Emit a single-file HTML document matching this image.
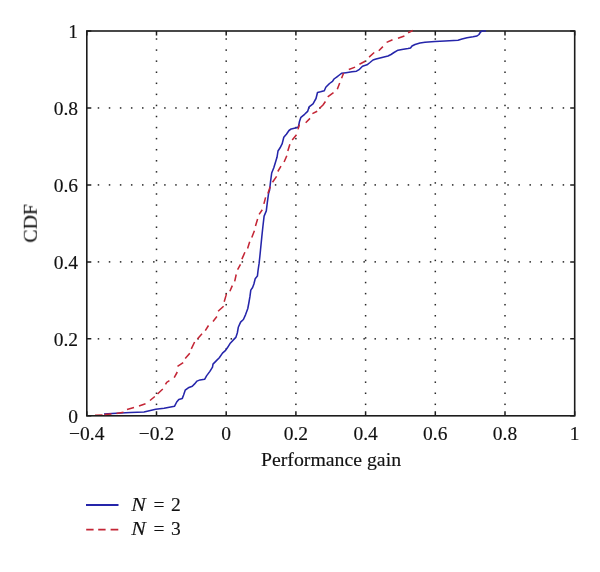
<!DOCTYPE html>
<html><head><meta charset="utf-8"><style>
html,body{margin:0;padding:0;background:#fff;}
body{width:600px;height:572px;overflow:hidden;}
svg{display:block;}
text{-webkit-font-smoothing:antialiased;}
.g{filter:grayscale(1);}

text{font-family:"Liberation Serif",serif;font-size:19.5px;fill:#111;stroke:#111;stroke-width:0.15px;}
</style></head><body>
<svg width="600" height="572" viewBox="0 0 600 572">
<rect width="600" height="572" fill="#fff"/>
<g fill="#262626"><rect x="97.72" y="338.09" width="1.5" height="1.5"/><rect x="108.79" y="338.09" width="1.5" height="1.5"/><rect x="119.86" y="338.09" width="1.5" height="1.5"/><rect x="130.93" y="338.09" width="1.5" height="1.5"/><rect x="142.00" y="338.09" width="1.5" height="1.5"/><rect x="153.07" y="338.09" width="1.5" height="1.5"/><rect x="164.14" y="338.09" width="1.5" height="1.5"/><rect x="175.21" y="338.09" width="1.5" height="1.5"/><rect x="186.28" y="338.09" width="1.5" height="1.5"/><rect x="197.35" y="338.09" width="1.5" height="1.5"/><rect x="208.42" y="338.09" width="1.5" height="1.5"/><rect x="219.49" y="338.09" width="1.5" height="1.5"/><rect x="230.56" y="338.09" width="1.5" height="1.5"/><rect x="241.63" y="338.09" width="1.5" height="1.5"/><rect x="252.70" y="338.09" width="1.5" height="1.5"/><rect x="263.77" y="338.09" width="1.5" height="1.5"/><rect x="274.84" y="338.09" width="1.5" height="1.5"/><rect x="285.91" y="338.09" width="1.5" height="1.5"/><rect x="296.98" y="338.09" width="1.5" height="1.5"/><rect x="308.05" y="338.09" width="1.5" height="1.5"/><rect x="319.12" y="338.09" width="1.5" height="1.5"/><rect x="330.19" y="338.09" width="1.5" height="1.5"/><rect x="341.26" y="338.09" width="1.5" height="1.5"/><rect x="352.33" y="338.09" width="1.5" height="1.5"/><rect x="363.40" y="338.09" width="1.5" height="1.5"/><rect x="374.47" y="338.09" width="1.5" height="1.5"/><rect x="385.54" y="338.09" width="1.5" height="1.5"/><rect x="396.61" y="338.09" width="1.5" height="1.5"/><rect x="407.68" y="338.09" width="1.5" height="1.5"/><rect x="418.75" y="338.09" width="1.5" height="1.5"/><rect x="429.82" y="338.09" width="1.5" height="1.5"/><rect x="440.89" y="338.09" width="1.5" height="1.5"/><rect x="451.96" y="338.09" width="1.5" height="1.5"/><rect x="463.03" y="338.09" width="1.5" height="1.5"/><rect x="474.10" y="338.09" width="1.5" height="1.5"/><rect x="485.17" y="338.09" width="1.5" height="1.5"/><rect x="496.24" y="338.09" width="1.5" height="1.5"/><rect x="507.31" y="338.09" width="1.5" height="1.5"/><rect x="518.38" y="338.09" width="1.5" height="1.5"/><rect x="529.45" y="338.09" width="1.5" height="1.5"/><rect x="540.52" y="338.09" width="1.5" height="1.5"/><rect x="551.59" y="338.09" width="1.5" height="1.5"/><rect x="562.66" y="338.09" width="1.5" height="1.5"/><rect x="97.72" y="261.13" width="1.5" height="1.5"/><rect x="108.79" y="261.13" width="1.5" height="1.5"/><rect x="119.86" y="261.13" width="1.5" height="1.5"/><rect x="130.93" y="261.13" width="1.5" height="1.5"/><rect x="142.00" y="261.13" width="1.5" height="1.5"/><rect x="153.07" y="261.13" width="1.5" height="1.5"/><rect x="164.14" y="261.13" width="1.5" height="1.5"/><rect x="175.21" y="261.13" width="1.5" height="1.5"/><rect x="186.28" y="261.13" width="1.5" height="1.5"/><rect x="197.35" y="261.13" width="1.5" height="1.5"/><rect x="208.42" y="261.13" width="1.5" height="1.5"/><rect x="219.49" y="261.13" width="1.5" height="1.5"/><rect x="230.56" y="261.13" width="1.5" height="1.5"/><rect x="241.63" y="261.13" width="1.5" height="1.5"/><rect x="252.70" y="261.13" width="1.5" height="1.5"/><rect x="263.77" y="261.13" width="1.5" height="1.5"/><rect x="274.84" y="261.13" width="1.5" height="1.5"/><rect x="285.91" y="261.13" width="1.5" height="1.5"/><rect x="296.98" y="261.13" width="1.5" height="1.5"/><rect x="308.05" y="261.13" width="1.5" height="1.5"/><rect x="319.12" y="261.13" width="1.5" height="1.5"/><rect x="330.19" y="261.13" width="1.5" height="1.5"/><rect x="341.26" y="261.13" width="1.5" height="1.5"/><rect x="352.33" y="261.13" width="1.5" height="1.5"/><rect x="363.40" y="261.13" width="1.5" height="1.5"/><rect x="374.47" y="261.13" width="1.5" height="1.5"/><rect x="385.54" y="261.13" width="1.5" height="1.5"/><rect x="396.61" y="261.13" width="1.5" height="1.5"/><rect x="407.68" y="261.13" width="1.5" height="1.5"/><rect x="418.75" y="261.13" width="1.5" height="1.5"/><rect x="429.82" y="261.13" width="1.5" height="1.5"/><rect x="440.89" y="261.13" width="1.5" height="1.5"/><rect x="451.96" y="261.13" width="1.5" height="1.5"/><rect x="463.03" y="261.13" width="1.5" height="1.5"/><rect x="474.10" y="261.13" width="1.5" height="1.5"/><rect x="485.17" y="261.13" width="1.5" height="1.5"/><rect x="496.24" y="261.13" width="1.5" height="1.5"/><rect x="507.31" y="261.13" width="1.5" height="1.5"/><rect x="518.38" y="261.13" width="1.5" height="1.5"/><rect x="529.45" y="261.13" width="1.5" height="1.5"/><rect x="540.52" y="261.13" width="1.5" height="1.5"/><rect x="551.59" y="261.13" width="1.5" height="1.5"/><rect x="562.66" y="261.13" width="1.5" height="1.5"/><rect x="97.72" y="184.17" width="1.5" height="1.5"/><rect x="108.79" y="184.17" width="1.5" height="1.5"/><rect x="119.86" y="184.17" width="1.5" height="1.5"/><rect x="130.93" y="184.17" width="1.5" height="1.5"/><rect x="142.00" y="184.17" width="1.5" height="1.5"/><rect x="153.07" y="184.17" width="1.5" height="1.5"/><rect x="164.14" y="184.17" width="1.5" height="1.5"/><rect x="175.21" y="184.17" width="1.5" height="1.5"/><rect x="186.28" y="184.17" width="1.5" height="1.5"/><rect x="197.35" y="184.17" width="1.5" height="1.5"/><rect x="208.42" y="184.17" width="1.5" height="1.5"/><rect x="219.49" y="184.17" width="1.5" height="1.5"/><rect x="230.56" y="184.17" width="1.5" height="1.5"/><rect x="241.63" y="184.17" width="1.5" height="1.5"/><rect x="252.70" y="184.17" width="1.5" height="1.5"/><rect x="263.77" y="184.17" width="1.5" height="1.5"/><rect x="274.84" y="184.17" width="1.5" height="1.5"/><rect x="285.91" y="184.17" width="1.5" height="1.5"/><rect x="296.98" y="184.17" width="1.5" height="1.5"/><rect x="308.05" y="184.17" width="1.5" height="1.5"/><rect x="319.12" y="184.17" width="1.5" height="1.5"/><rect x="330.19" y="184.17" width="1.5" height="1.5"/><rect x="341.26" y="184.17" width="1.5" height="1.5"/><rect x="352.33" y="184.17" width="1.5" height="1.5"/><rect x="363.40" y="184.17" width="1.5" height="1.5"/><rect x="374.47" y="184.17" width="1.5" height="1.5"/><rect x="385.54" y="184.17" width="1.5" height="1.5"/><rect x="396.61" y="184.17" width="1.5" height="1.5"/><rect x="407.68" y="184.17" width="1.5" height="1.5"/><rect x="418.75" y="184.17" width="1.5" height="1.5"/><rect x="429.82" y="184.17" width="1.5" height="1.5"/><rect x="440.89" y="184.17" width="1.5" height="1.5"/><rect x="451.96" y="184.17" width="1.5" height="1.5"/><rect x="463.03" y="184.17" width="1.5" height="1.5"/><rect x="474.10" y="184.17" width="1.5" height="1.5"/><rect x="485.17" y="184.17" width="1.5" height="1.5"/><rect x="496.24" y="184.17" width="1.5" height="1.5"/><rect x="507.31" y="184.17" width="1.5" height="1.5"/><rect x="518.38" y="184.17" width="1.5" height="1.5"/><rect x="529.45" y="184.17" width="1.5" height="1.5"/><rect x="540.52" y="184.17" width="1.5" height="1.5"/><rect x="551.59" y="184.17" width="1.5" height="1.5"/><rect x="562.66" y="184.17" width="1.5" height="1.5"/><rect x="97.72" y="107.21" width="1.5" height="1.5"/><rect x="108.79" y="107.21" width="1.5" height="1.5"/><rect x="119.86" y="107.21" width="1.5" height="1.5"/><rect x="130.93" y="107.21" width="1.5" height="1.5"/><rect x="142.00" y="107.21" width="1.5" height="1.5"/><rect x="153.07" y="107.21" width="1.5" height="1.5"/><rect x="164.14" y="107.21" width="1.5" height="1.5"/><rect x="175.21" y="107.21" width="1.5" height="1.5"/><rect x="186.28" y="107.21" width="1.5" height="1.5"/><rect x="197.35" y="107.21" width="1.5" height="1.5"/><rect x="208.42" y="107.21" width="1.5" height="1.5"/><rect x="219.49" y="107.21" width="1.5" height="1.5"/><rect x="230.56" y="107.21" width="1.5" height="1.5"/><rect x="241.63" y="107.21" width="1.5" height="1.5"/><rect x="252.70" y="107.21" width="1.5" height="1.5"/><rect x="263.77" y="107.21" width="1.5" height="1.5"/><rect x="274.84" y="107.21" width="1.5" height="1.5"/><rect x="285.91" y="107.21" width="1.5" height="1.5"/><rect x="296.98" y="107.21" width="1.5" height="1.5"/><rect x="308.05" y="107.21" width="1.5" height="1.5"/><rect x="319.12" y="107.21" width="1.5" height="1.5"/><rect x="330.19" y="107.21" width="1.5" height="1.5"/><rect x="341.26" y="107.21" width="1.5" height="1.5"/><rect x="352.33" y="107.21" width="1.5" height="1.5"/><rect x="363.40" y="107.21" width="1.5" height="1.5"/><rect x="374.47" y="107.21" width="1.5" height="1.5"/><rect x="385.54" y="107.21" width="1.5" height="1.5"/><rect x="396.61" y="107.21" width="1.5" height="1.5"/><rect x="407.68" y="107.21" width="1.5" height="1.5"/><rect x="418.75" y="107.21" width="1.5" height="1.5"/><rect x="429.82" y="107.21" width="1.5" height="1.5"/><rect x="440.89" y="107.21" width="1.5" height="1.5"/><rect x="451.96" y="107.21" width="1.5" height="1.5"/><rect x="463.03" y="107.21" width="1.5" height="1.5"/><rect x="474.10" y="107.21" width="1.5" height="1.5"/><rect x="485.17" y="107.21" width="1.5" height="1.5"/><rect x="496.24" y="107.21" width="1.5" height="1.5"/><rect x="507.31" y="107.21" width="1.5" height="1.5"/><rect x="518.38" y="107.21" width="1.5" height="1.5"/><rect x="529.45" y="107.21" width="1.5" height="1.5"/><rect x="540.52" y="107.21" width="1.5" height="1.5"/><rect x="551.59" y="107.21" width="1.5" height="1.5"/><rect x="562.66" y="107.21" width="1.5" height="1.5"/><rect x="155.75" y="403.58" width="1.5" height="1.5"/><rect x="155.75" y="392.51" width="1.5" height="1.5"/><rect x="155.75" y="381.44" width="1.5" height="1.5"/><rect x="155.75" y="370.37" width="1.5" height="1.5"/><rect x="155.75" y="359.30" width="1.5" height="1.5"/><rect x="155.75" y="348.23" width="1.5" height="1.5"/><rect x="155.75" y="337.16" width="1.5" height="1.5"/><rect x="155.75" y="326.09" width="1.5" height="1.5"/><rect x="155.75" y="315.02" width="1.5" height="1.5"/><rect x="155.75" y="303.95" width="1.5" height="1.5"/><rect x="155.75" y="292.88" width="1.5" height="1.5"/><rect x="155.75" y="281.81" width="1.5" height="1.5"/><rect x="155.75" y="270.74" width="1.5" height="1.5"/><rect x="155.75" y="259.67" width="1.5" height="1.5"/><rect x="155.75" y="248.60" width="1.5" height="1.5"/><rect x="155.75" y="237.53" width="1.5" height="1.5"/><rect x="155.75" y="226.46" width="1.5" height="1.5"/><rect x="155.75" y="215.39" width="1.5" height="1.5"/><rect x="155.75" y="204.32" width="1.5" height="1.5"/><rect x="155.75" y="193.25" width="1.5" height="1.5"/><rect x="155.75" y="182.18" width="1.5" height="1.5"/><rect x="155.75" y="171.11" width="1.5" height="1.5"/><rect x="155.75" y="160.04" width="1.5" height="1.5"/><rect x="155.75" y="148.97" width="1.5" height="1.5"/><rect x="155.75" y="137.90" width="1.5" height="1.5"/><rect x="155.75" y="126.83" width="1.5" height="1.5"/><rect x="155.75" y="115.76" width="1.5" height="1.5"/><rect x="155.75" y="104.69" width="1.5" height="1.5"/><rect x="155.75" y="93.62" width="1.5" height="1.5"/><rect x="155.75" y="82.55" width="1.5" height="1.5"/><rect x="155.75" y="71.48" width="1.5" height="1.5"/><rect x="155.75" y="60.41" width="1.5" height="1.5"/><rect x="155.75" y="49.34" width="1.5" height="1.5"/><rect x="155.75" y="38.27" width="1.5" height="1.5"/><rect x="225.45" y="403.58" width="1.5" height="1.5"/><rect x="225.45" y="392.51" width="1.5" height="1.5"/><rect x="225.45" y="381.44" width="1.5" height="1.5"/><rect x="225.45" y="370.37" width="1.5" height="1.5"/><rect x="225.45" y="359.30" width="1.5" height="1.5"/><rect x="225.45" y="348.23" width="1.5" height="1.5"/><rect x="225.45" y="337.16" width="1.5" height="1.5"/><rect x="225.45" y="326.09" width="1.5" height="1.5"/><rect x="225.45" y="315.02" width="1.5" height="1.5"/><rect x="225.45" y="303.95" width="1.5" height="1.5"/><rect x="225.45" y="292.88" width="1.5" height="1.5"/><rect x="225.45" y="281.81" width="1.5" height="1.5"/><rect x="225.45" y="270.74" width="1.5" height="1.5"/><rect x="225.45" y="259.67" width="1.5" height="1.5"/><rect x="225.45" y="248.60" width="1.5" height="1.5"/><rect x="225.45" y="237.53" width="1.5" height="1.5"/><rect x="225.45" y="226.46" width="1.5" height="1.5"/><rect x="225.45" y="215.39" width="1.5" height="1.5"/><rect x="225.45" y="204.32" width="1.5" height="1.5"/><rect x="225.45" y="193.25" width="1.5" height="1.5"/><rect x="225.45" y="182.18" width="1.5" height="1.5"/><rect x="225.45" y="171.11" width="1.5" height="1.5"/><rect x="225.45" y="160.04" width="1.5" height="1.5"/><rect x="225.45" y="148.97" width="1.5" height="1.5"/><rect x="225.45" y="137.90" width="1.5" height="1.5"/><rect x="225.45" y="126.83" width="1.5" height="1.5"/><rect x="225.45" y="115.76" width="1.5" height="1.5"/><rect x="225.45" y="104.69" width="1.5" height="1.5"/><rect x="225.45" y="93.62" width="1.5" height="1.5"/><rect x="225.45" y="82.55" width="1.5" height="1.5"/><rect x="225.45" y="71.48" width="1.5" height="1.5"/><rect x="225.45" y="60.41" width="1.5" height="1.5"/><rect x="225.45" y="49.34" width="1.5" height="1.5"/><rect x="225.45" y="38.27" width="1.5" height="1.5"/><rect x="295.15" y="403.58" width="1.5" height="1.5"/><rect x="295.15" y="392.51" width="1.5" height="1.5"/><rect x="295.15" y="381.44" width="1.5" height="1.5"/><rect x="295.15" y="370.37" width="1.5" height="1.5"/><rect x="295.15" y="359.30" width="1.5" height="1.5"/><rect x="295.15" y="348.23" width="1.5" height="1.5"/><rect x="295.15" y="337.16" width="1.5" height="1.5"/><rect x="295.15" y="326.09" width="1.5" height="1.5"/><rect x="295.15" y="315.02" width="1.5" height="1.5"/><rect x="295.15" y="303.95" width="1.5" height="1.5"/><rect x="295.15" y="292.88" width="1.5" height="1.5"/><rect x="295.15" y="281.81" width="1.5" height="1.5"/><rect x="295.15" y="270.74" width="1.5" height="1.5"/><rect x="295.15" y="259.67" width="1.5" height="1.5"/><rect x="295.15" y="248.60" width="1.5" height="1.5"/><rect x="295.15" y="237.53" width="1.5" height="1.5"/><rect x="295.15" y="226.46" width="1.5" height="1.5"/><rect x="295.15" y="215.39" width="1.5" height="1.5"/><rect x="295.15" y="204.32" width="1.5" height="1.5"/><rect x="295.15" y="193.25" width="1.5" height="1.5"/><rect x="295.15" y="182.18" width="1.5" height="1.5"/><rect x="295.15" y="171.11" width="1.5" height="1.5"/><rect x="295.15" y="160.04" width="1.5" height="1.5"/><rect x="295.15" y="148.97" width="1.5" height="1.5"/><rect x="295.15" y="137.90" width="1.5" height="1.5"/><rect x="295.15" y="126.83" width="1.5" height="1.5"/><rect x="295.15" y="115.76" width="1.5" height="1.5"/><rect x="295.15" y="104.69" width="1.5" height="1.5"/><rect x="295.15" y="93.62" width="1.5" height="1.5"/><rect x="295.15" y="82.55" width="1.5" height="1.5"/><rect x="295.15" y="71.48" width="1.5" height="1.5"/><rect x="295.15" y="60.41" width="1.5" height="1.5"/><rect x="295.15" y="49.34" width="1.5" height="1.5"/><rect x="295.15" y="38.27" width="1.5" height="1.5"/><rect x="364.85" y="403.58" width="1.5" height="1.5"/><rect x="364.85" y="392.51" width="1.5" height="1.5"/><rect x="364.85" y="381.44" width="1.5" height="1.5"/><rect x="364.85" y="370.37" width="1.5" height="1.5"/><rect x="364.85" y="359.30" width="1.5" height="1.5"/><rect x="364.85" y="348.23" width="1.5" height="1.5"/><rect x="364.85" y="337.16" width="1.5" height="1.5"/><rect x="364.85" y="326.09" width="1.5" height="1.5"/><rect x="364.85" y="315.02" width="1.5" height="1.5"/><rect x="364.85" y="303.95" width="1.5" height="1.5"/><rect x="364.85" y="292.88" width="1.5" height="1.5"/><rect x="364.85" y="281.81" width="1.5" height="1.5"/><rect x="364.85" y="270.74" width="1.5" height="1.5"/><rect x="364.85" y="259.67" width="1.5" height="1.5"/><rect x="364.85" y="248.60" width="1.5" height="1.5"/><rect x="364.85" y="237.53" width="1.5" height="1.5"/><rect x="364.85" y="226.46" width="1.5" height="1.5"/><rect x="364.85" y="215.39" width="1.5" height="1.5"/><rect x="364.85" y="204.32" width="1.5" height="1.5"/><rect x="364.85" y="193.25" width="1.5" height="1.5"/><rect x="364.85" y="182.18" width="1.5" height="1.5"/><rect x="364.85" y="171.11" width="1.5" height="1.5"/><rect x="364.85" y="160.04" width="1.5" height="1.5"/><rect x="364.85" y="148.97" width="1.5" height="1.5"/><rect x="364.85" y="137.90" width="1.5" height="1.5"/><rect x="364.85" y="126.83" width="1.5" height="1.5"/><rect x="364.85" y="115.76" width="1.5" height="1.5"/><rect x="364.85" y="104.69" width="1.5" height="1.5"/><rect x="364.85" y="93.62" width="1.5" height="1.5"/><rect x="364.85" y="82.55" width="1.5" height="1.5"/><rect x="364.85" y="71.48" width="1.5" height="1.5"/><rect x="364.85" y="60.41" width="1.5" height="1.5"/><rect x="364.85" y="49.34" width="1.5" height="1.5"/><rect x="364.85" y="38.27" width="1.5" height="1.5"/><rect x="434.55" y="403.58" width="1.5" height="1.5"/><rect x="434.55" y="392.51" width="1.5" height="1.5"/><rect x="434.55" y="381.44" width="1.5" height="1.5"/><rect x="434.55" y="370.37" width="1.5" height="1.5"/><rect x="434.55" y="359.30" width="1.5" height="1.5"/><rect x="434.55" y="348.23" width="1.5" height="1.5"/><rect x="434.55" y="337.16" width="1.5" height="1.5"/><rect x="434.55" y="326.09" width="1.5" height="1.5"/><rect x="434.55" y="315.02" width="1.5" height="1.5"/><rect x="434.55" y="303.95" width="1.5" height="1.5"/><rect x="434.55" y="292.88" width="1.5" height="1.5"/><rect x="434.55" y="281.81" width="1.5" height="1.5"/><rect x="434.55" y="270.74" width="1.5" height="1.5"/><rect x="434.55" y="259.67" width="1.5" height="1.5"/><rect x="434.55" y="248.60" width="1.5" height="1.5"/><rect x="434.55" y="237.53" width="1.5" height="1.5"/><rect x="434.55" y="226.46" width="1.5" height="1.5"/><rect x="434.55" y="215.39" width="1.5" height="1.5"/><rect x="434.55" y="204.32" width="1.5" height="1.5"/><rect x="434.55" y="193.25" width="1.5" height="1.5"/><rect x="434.55" y="182.18" width="1.5" height="1.5"/><rect x="434.55" y="171.11" width="1.5" height="1.5"/><rect x="434.55" y="160.04" width="1.5" height="1.5"/><rect x="434.55" y="148.97" width="1.5" height="1.5"/><rect x="434.55" y="137.90" width="1.5" height="1.5"/><rect x="434.55" y="126.83" width="1.5" height="1.5"/><rect x="434.55" y="115.76" width="1.5" height="1.5"/><rect x="434.55" y="104.69" width="1.5" height="1.5"/><rect x="434.55" y="93.62" width="1.5" height="1.5"/><rect x="434.55" y="82.55" width="1.5" height="1.5"/><rect x="434.55" y="71.48" width="1.5" height="1.5"/><rect x="434.55" y="60.41" width="1.5" height="1.5"/><rect x="434.55" y="49.34" width="1.5" height="1.5"/><rect x="434.55" y="38.27" width="1.5" height="1.5"/><rect x="504.25" y="403.58" width="1.5" height="1.5"/><rect x="504.25" y="392.51" width="1.5" height="1.5"/><rect x="504.25" y="381.44" width="1.5" height="1.5"/><rect x="504.25" y="370.37" width="1.5" height="1.5"/><rect x="504.25" y="359.30" width="1.5" height="1.5"/><rect x="504.25" y="348.23" width="1.5" height="1.5"/><rect x="504.25" y="337.16" width="1.5" height="1.5"/><rect x="504.25" y="326.09" width="1.5" height="1.5"/><rect x="504.25" y="315.02" width="1.5" height="1.5"/><rect x="504.25" y="303.95" width="1.5" height="1.5"/><rect x="504.25" y="292.88" width="1.5" height="1.5"/><rect x="504.25" y="281.81" width="1.5" height="1.5"/><rect x="504.25" y="270.74" width="1.5" height="1.5"/><rect x="504.25" y="259.67" width="1.5" height="1.5"/><rect x="504.25" y="248.60" width="1.5" height="1.5"/><rect x="504.25" y="237.53" width="1.5" height="1.5"/><rect x="504.25" y="226.46" width="1.5" height="1.5"/><rect x="504.25" y="215.39" width="1.5" height="1.5"/><rect x="504.25" y="204.32" width="1.5" height="1.5"/><rect x="504.25" y="193.25" width="1.5" height="1.5"/><rect x="504.25" y="182.18" width="1.5" height="1.5"/><rect x="504.25" y="171.11" width="1.5" height="1.5"/><rect x="504.25" y="160.04" width="1.5" height="1.5"/><rect x="504.25" y="148.97" width="1.5" height="1.5"/><rect x="504.25" y="137.90" width="1.5" height="1.5"/><rect x="504.25" y="126.83" width="1.5" height="1.5"/><rect x="504.25" y="115.76" width="1.5" height="1.5"/><rect x="504.25" y="104.69" width="1.5" height="1.5"/><rect x="504.25" y="93.62" width="1.5" height="1.5"/><rect x="504.25" y="82.55" width="1.5" height="1.5"/><rect x="504.25" y="71.48" width="1.5" height="1.5"/><rect x="504.25" y="60.41" width="1.5" height="1.5"/><rect x="504.25" y="49.34" width="1.5" height="1.5"/><rect x="504.25" y="38.27" width="1.5" height="1.5"/></g>
<path d="M95,415.2 L102.5,415.0" stroke="#c42636" stroke-width="1.55"/>
<rect x="86.8" y="31.0" width="487.90000000000003" height="384.8" fill="none" stroke="#1c1c1c" stroke-width="1.6"/>
<path d="M86.80,415.8 V411.3 M86.80,31.0 V35.5 M156.50,415.8 V411.3 M156.50,31.0 V35.5 M226.20,415.8 V411.3 M226.20,31.0 V35.5 M295.90,415.8 V411.3 M295.90,31.0 V35.5 M365.60,415.8 V411.3 M365.60,31.0 V35.5 M435.30,415.8 V411.3 M435.30,31.0 V35.5 M505.00,415.8 V411.3 M505.00,31.0 V35.5 M574.70,415.8 V411.3 M574.70,31.0 V35.5 M86.8,415.80 H91.3 M574.7,415.80 H570.2 M86.8,338.84 H91.3 M574.7,338.84 H570.2 M86.8,261.88 H91.3 M574.7,261.88 H570.2 M86.8,184.92 H91.3 M574.7,184.92 H570.2 M86.8,107.96 H91.3 M574.7,107.96 H570.2 M86.8,31.00 H91.3 M574.7,31.00 H570.2" stroke="#1c1c1c" stroke-width="1.5" fill="none"/>
<path d="M104.0,414.0 L112.0,413.5 L121.0,413.0 L130.5,412.5 L144.0,412.0 L150.4,410.4 L155.7,409.3 L164.1,408.3 L174.6,406.2 L176.7,402.0 L178.8,399.4 L182.3,398.4 L183.6,395.0 L185.2,390.2 L188.3,387.8 L192.3,386.2 L194.6,383.9 L197.0,381.1 L200.0,379.9 L204.6,379.3 L206.7,375.6 L209.9,371.4 L212.5,367.2 L213.0,364.1 L216.2,360.9 L219.3,357.8 L222.5,353.1 L225.6,350.4 L227.7,347.3 L230.0,343.6 L232.9,340.4 L235.8,337.4 L237.3,333.0 L238.3,327.3 L240.6,322.1 L243.4,319.5 L245.6,314.6 L247.8,308.5 L249.1,301.5 L250.0,296.2 L250.8,290.1 L252.6,287.5 L253.9,284.0 L255.2,278.7 L257.4,276.1 L258.1,270.0 L259.1,263.4 L259.9,256.0 L260.5,250.0 L261.8,236.9 L262.9,226.5 L264.1,216.1 L266.3,210.9 L267.3,202.7 L268.5,193.8 L269.6,190.0 L270.7,180.4 L271.7,173.0 L273.8,167.8 L275.4,162.5 L277.0,157.3 L278.0,151.0 L280.1,147.8 L282.2,143.6 L283.8,137.3 L286.4,134.2 L289.0,130.5 L291.2,128.9 L296.4,127.7 L298.4,127.0 L299.4,121.8 L300.9,117.3 L304.6,114.3 L307.6,111.4 L309.1,106.9 L313.0,103.8 L316.0,98.5 L317.5,92.5 L320.5,91.8 L324.3,90.7 L325.8,87.3 L329.5,83.5 L332.5,81.3 L334.0,79.0 L337.0,76.8 L340.0,74.5 L341.5,73.3 L346.0,72.7 L352.0,71.8 L356.5,71.2 L359.5,69.3 L362.5,66.3 L367.0,64.8 L370.0,62.5 L373.0,60.0 L376.0,59.0 L382.0,57.5 L388.0,56.0 L391.0,54.5 L394.0,52.5 L398.0,50.2 L402.0,49.5 L408.0,48.5 L410.5,48.0 L412.0,46.0 L415.0,44.5 L420.0,43.0 L425.0,42.2 L435.0,41.5 L445.0,41.0 L458.0,40.2 L462.0,39.0 L467.0,37.8 L473.0,36.8 L477.0,36.0 L479.0,34.5 L480.5,32.0 L482.0,31.0 L486.0,31.0" fill="none" stroke="#2525aa" stroke-width="1.55" stroke-linejoin="round"/>
<path d="M104.5,414.5 L111.5,414.1 M116.5,413.5 L123.5,412.2 M127.0,409.5 L134.0,407.5 M139.0,406.0 L145.5,403.8 M150.0,400.5 L154.8,396.5 M157.5,394.0 L162.8,389.0 M165.5,384.3 L166.7,382.3 L169.4,380.7 M174.2,377.6 L177.3,372.0 M177.5,366.4 L183.2,362.6 M185.2,358.5 L189.8,353.2 M191.3,348.8 L194.6,342.0 M197.4,339.1 L202.0,333.8 M205.3,330.6 L208.5,325.5 M213.0,321.4 L216.9,316.6 M218.1,311.3 L223.6,306.2 M224.2,301.7 L225.9,295.9 L226.4,293.9 M229.9,291.3 L232.3,285.6 M234.7,281.3 L236.2,274.5 M237.6,269.7 L240.5,264.4 M241.9,259.1 L244.9,252.3 M247.6,248.5 L249.7,241.7 M251.8,237.5 L254.4,230.7 M255.5,226.0 L257.6,219.1 M259.1,214.4 L262.3,209.7 M263.9,203.9 L265.6,197.4 M267.9,193.5 L270.2,186.8 M272.5,182.2 L276.6,176.4 M277.8,171.5 L281.0,166.2 M284.1,162.0 L286.8,155.7 M287.8,151.0 L289.9,144.2 M292.2,140.0 L296.5,134.7 M298.0,129.4 L299.4,124.6 M305.7,122.7 L310.0,118.4 M312.4,113.6 L317.2,111.2 M319.6,108.3 L323.0,105.0 L325.4,101.5 M327.7,96.9 L333.5,92.6 M337.3,89.2 L339.7,83.0 M341.6,78.2 L343.6,72.9 M348.8,69.5 L355.1,67.1 M359.4,64.2 L365.2,61.3 M369.1,57.1 L374.2,52.5 M378.8,50.7 L382.9,46.6 M386.6,42.4 L392.5,39.7 M398.0,38.3 L404.4,36.0 M408.1,32.8 L412.7,30.5" fill="none" stroke="#c42636" stroke-width="1.55" stroke-linejoin="round"/>
<path d="M86,505 H118.5" stroke="#2525aa" stroke-width="1.8"/>
<path d="M86.2,529.6 H93.6 M98.2,529.6 H105.6 M110.6,529.6 H118.3" stroke="#c42636" stroke-width="1.7"/>
<g class="g"><text x="86.80" y="440" text-anchor="middle">−0.4</text><text x="156.50" y="440" text-anchor="middle">−0.2</text><text x="226.20" y="440" text-anchor="middle">0</text><text x="295.90" y="440" text-anchor="middle">0.2</text><text x="365.60" y="440" text-anchor="middle">0.4</text><text x="435.30" y="440" text-anchor="middle">0.6</text><text x="505.00" y="440" text-anchor="middle">0.8</text><text x="574.70" y="440" text-anchor="middle">1</text>
<text x="78" y="422.60" text-anchor="end">0</text><text x="78" y="345.64" text-anchor="end">0.2</text><text x="78" y="268.68" text-anchor="end">0.4</text><text x="78" y="191.72" text-anchor="end">0.6</text><text x="78" y="114.76" text-anchor="end">0.8</text><text x="78" y="37.80" text-anchor="end">1</text>
<text x="331" y="465.5" text-anchor="middle" style="font-size:19.8px">Performance gain</text>
<text transform="translate(36.8,223.4) rotate(-90)" text-anchor="middle" style="font-size:19.8px">CDF</text>
<text transform="translate(131.2,510.7) scale(1.12,1)" font-style="italic">N</text><text x="159" y="510.7" text-anchor="middle">=</text><text x="175.8" y="510.7" text-anchor="middle">2</text>
<text transform="translate(131.2,534.5) scale(1.12,1)" font-style="italic">N</text><text x="159" y="534.5" text-anchor="middle">=</text><text x="175.8" y="534.5" text-anchor="middle">3</text>
</g>
</svg>
</body></html>
